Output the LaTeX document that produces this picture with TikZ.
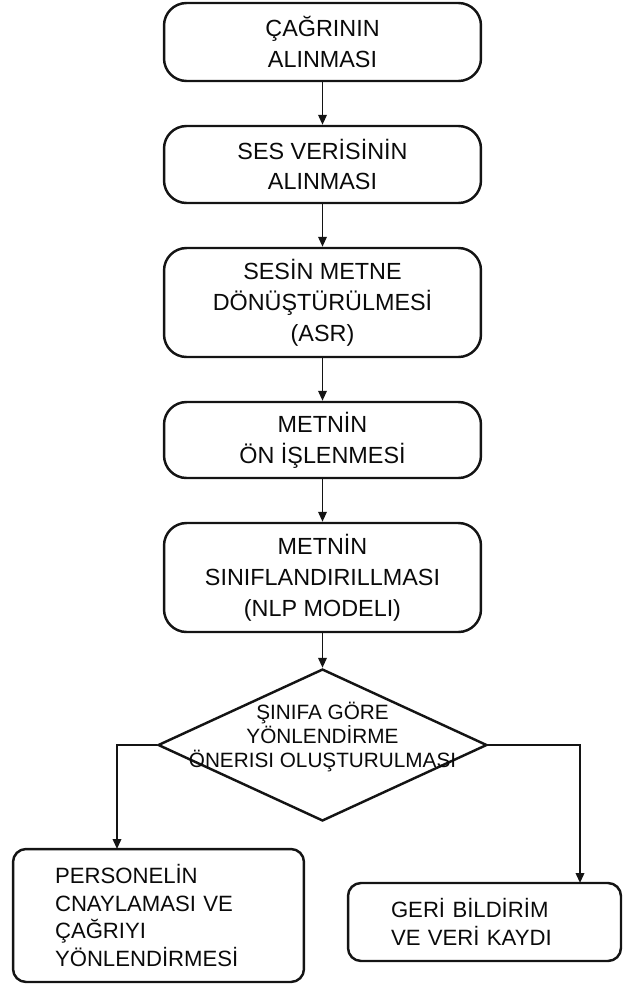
\documentclass[tikz,border=0pt]{standalone}
\usepackage{fontspec}
\setmainfont{Liberation Sans}
\usepackage{tikz}
\usetikzlibrary{arrows.meta, positioning, calc, shapes.geometric}
\definecolor{fcline}{RGB}{20,20,20}
\definecolor{fctext}{RGB}{10,10,10}

\newcommand{\fcboxfont}{\fontsize{13.3}{17.6}\selectfont}
\newcommand{\fcsidefont}{\fontsize{12.6}{15.9}\selectfont}
\newcommand{\fcdecfont}{\fontsize{11.8}{13.7}\selectfont}

\tikzset{
  procbox/.style={draw=fcline, line width=1.4pt, rounded corners=0.45cm,
    minimum width=6.34cm, inner sep=0pt, align=center, text=fctext,
    font=\fcboxfont},
  sidebox/.style={draw=fcline, line width=1.4pt, rounded corners=0.26cm,
    inner ysep=0pt, align=left, text=fctext, font=\fcsidefont},
  decbox/.style={draw=fcline, line width=1.4pt, diamond, inner sep=0pt,
    minimum width=6.58cm, minimum height=3.04cm},
  flow/.style={draw=fcline, line width=1.1pt,
    -{Triangle[length=0.2cm, width=0.17cm]}},
}

\begin{document}
\begin{tikzpicture}[x=0.02cm, y=-0.02cm]
\useasboundingbox (0,0) rectangle (623,987);

% main column
\node[procbox, minimum height=1.56cm] (recv)  at (322.5,42)
  {ÇAĞRININ\\ALINMASI};
\node[procbox, minimum height=1.54cm] (audio) at (322.5,164.5)
  {SES VERİSİNİN\\ALINMASI};
\node[procbox, minimum height=2.18cm] (asr)   at (322.5,302.5)
  {SESİN METNE\\DÖNÜŞTÜRÜLMESİ\\(ASR)};
\node[procbox, minimum height=1.52cm] (prep)  at (322.5,440)
  {METNİN\\ÖN İŞLENMESİ};
\node[procbox, minimum height=2.18cm] (nlp)   at (322.5,577.5)
  {METNİN\\SINIFLANDIRILLMASI\\(NLP MODELI)};

% decision
\node[decbox] (route) at (322.5,745) {};
\node[text=fctext, font=\fcdecfont, align=center] (routetxt) at (322.5,737)
  {ŞINIFA GÖRE\\YÖNLENDİRME\\ÖNERISI OLUŞTURULMASI};

% outcomes
\node[sidebox, minimum width=5.82cm, minimum height=2.66cm,
  inner xsep=0.84cm, text width=4.14cm] (staff) at (158.5,915.5)
  {PERSONELİN\\CNAYLAMASI VE\\ÇAĞRIYI\\YÖNLENDİRMESİ};
\node[sidebox, minimum width=5.46cm, minimum height=1.56cm,
  inner xsep=0.86cm, text width=3.74cm] (log) at (484.5,922)
  {GERİ BİLDİRİM\\VE VERİ KAYDI};
\coordinate (staffin) at (117,849);
\coordinate (login)   at (580,883);

% arrows
\draw[flow] (recv)  -- (audio);
\draw[flow] (audio) -- (asr);
\draw[flow] (asr)   -- (prep);
\draw[flow] (prep)  -- (nlp);
\draw[flow] (nlp)   -- (route);
\draw[flow] (route.west) -| (staffin);
\draw[flow] (route.east) -| (login);
\end{tikzpicture}
\end{document}
